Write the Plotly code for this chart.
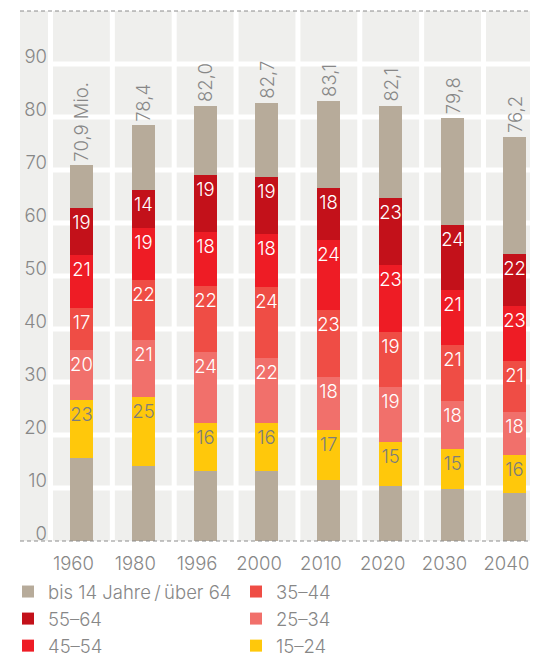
import plotly.graph_objects as go

# ---------------- data (millions of inhabitants) ----------------
years = ["1960", "1980", "1996", "2000", "2010", "2020", "2030", "2040"]
totals = [70.9, 78.4, 82.0, 82.7, 83.1, 82.1, 79.8, 76.2]
total_labels = ["70,9 Mio.", "78,4", "82,0", "82,7", "83,1", "82,1", "79,8", "76,2"]

under15 = [15.7, 14.2, 13.3, 13.3, 11.6, 10.3, 9.9, 9.1]
age15_24 = [10.9, 13.0, 8.9, 8.9, 9.4, 8.3, 7.4, 7.2]
age25_34 = [9.5, 10.8, 13.4, 12.3, 9.9, 10.4, 9.1, 8.1]
age35_44 = [7.9, 11.3, 12.5, 13.4, 12.7, 10.4, 10.5, 9.5]
age45_54 = [9.9, 9.7, 10.2, 10.1, 13.1, 12.6, 10.5, 10.4]
age55_64 = [8.9, 7.2, 10.8, 10.7, 9.9, 12.8, 12.2, 9.8]
over64 = [8.1, 12.2, 12.9, 14.0, 16.5, 17.3, 20.2, 22.1]

# shares (%) of the 15-64 population, printed inside the segments
pct15_24 = [23, 25, 16, 16, 17, 15, 15, 16]
pct25_34 = [20, 21, 24, 22, 18, 19, 18, 18]
pct35_44 = [17, 22, 22, 24, 23, 19, 21, 21]
pct45_54 = [21, 19, 18, 18, 24, 23, 21, 23]
pct55_64 = [19, 14, 19, 19, 18, 23, 24, 22]

y_ticks = [0, 10, 20, 30, 40, 50, 60, 70, 80, 90]

# ---------------- styling ----------------
FONT = "Inter"
FW = 300
FS = 18.5
TXT = "#878787"
C_GRAY = "#b7ab9a"
C_1524 = "#ffc80b"
C_2534 = "#f1706b"
C_3544 = "#ef4d45"
C_4554 = "#ee1c25"
C_5564 = "#c3111a"
BG = "#efefed"
BAR_W = 0.372

# the page body adds an 8px offset, so the figure is 8px smaller than the window
W, H = 530, 649
ML, MR, MT, MB = 40, 0, 3, 116
PW = W - ML - MR
PH = H - MT - MB
X0 = -0.54
X1 = 7.381

def px2paper_x(px):
    return (px - ML) / PW

def px2paper_y(py):
    return (H - MB - py) / PH

fig = go.Figure()

def add(vals, name, color, texts=None, txtcolor="white", showlegend=True, rank=1):
    fig.add_trace(go.Bar(
        x=years, y=vals, name=name, width=BAR_W,
        marker=dict(color=color, line=dict(width=0)),
        text=[str(t) for t in texts] if texts else None,
        textposition="inside" if texts else "none",
        insidetextanchor="end", textangle=0,
        insidetextfont=dict(family=FONT, size=FS, color=txtcolor, weight=FW),
        showlegend=showlegend, legendrank=rank,
        hoverinfo="x+y+name",
    ))

add(under15, "bis 14 Jahre\u2009/\u2009über 64", C_GRAY, rank=1)
add(age15_24, "15–24", C_1524, pct15_24, txtcolor="#7d7d7d", rank=6)
add(age25_34, "25–34", C_2534, pct25_34, rank=4)
add(age35_44, "35–44", C_3544, pct35_44, rank=2)
add(age45_54, "45–54", C_4554, pct45_54, rank=5)
add(age55_64, "55–64", C_5564, pct55_64, rank=3)
add(over64, "über 64", C_GRAY, showlegend=False, rank=7)

# total labels above the bars
for i, (tot, lab) in enumerate(zip(totals, total_labels)):
    fig.add_annotation(x=i, y=tot, xref="x", yref="y", text=lab, textangle=-90,
                       showarrow=False, xanchor="center", yanchor="bottom", yshift=2,
                       font=dict(family=FONT, size=FS, color=TXT, weight=FW))

# background: label column, white stripes between columns, white lines every 10
shapes = [dict(type="rect", xref="paper", yref="paper", x0=px2paper_x(12), x1=0,
               y0=0, y1=1, fillcolor=BG, line=dict(width=0), layer="below")]
for k in range(len(years)):
    shapes.append(dict(type="line", xref="x", yref="y", x0=k - 0.5, x1=k - 0.5,
                       y0=0, y1=100, line=dict(color="white", width=5), layer="below"))
for v in y_ticks[1:]:
    shapes.append(dict(type="line", xref="x", yref="y", x0=-0.5, x1=X1 + 0.2,
                       y0=v, y1=v, line=dict(color="white", width=5), layer="below"))
for yy in (0, 1):
    shapes.append(dict(type="line", xref="paper", yref="paper", x0=px2paper_x(12), x1=1,
                       y0=yy, y1=yy, line=dict(color="#8c8c8c", width=1, dash="4px,3px"),
                       layer="above"))

fig.update_layout(
    width=W, height=H,
    margin=dict(l=ML, r=MR, t=MT, b=MB, pad=0, autoexpand=False),
    paper_bgcolor="white", plot_bgcolor=BG,
    barmode="stack", bargap=0,
    font=dict(family=FONT, size=FS, color=TXT, weight=FW),
    uniformtext=dict(minsize=FS, mode="show"),
    shapes=shapes,
    xaxis=dict(type="category", range=[X0, X1], showgrid=False, zeroline=False,
               showline=False, ticks="", tickfont=dict(family=FONT, size=FS, color=TXT, weight=FW),
               ticklabelshift=-8, ticklabelstandoff=9, fixedrange=True),
    yaxis=dict(range=[0, 100], tickvals=y_ticks, showgrid=False, zeroline=False,
               showline=False, ticks="", ticklabelshift=-7,
               tickfont=dict(family=FONT, size=FS, color=TXT, weight=FW),
               fixedrange=True),
    legend=dict(orientation="h", xref="paper", yref="paper",
                x=px2paper_x(0), xanchor="left", y=px2paper_y(565), yanchor="top",
                entrywidth=183, traceorder="normal",
                font=dict(family=FONT, size=FS, color=TXT, weight=FW),
                bgcolor="rgba(0,0,0,0)", itemclick=False, itemdoubleclick=False),
    showlegend=True,
)

fig.write_html("out.html")
